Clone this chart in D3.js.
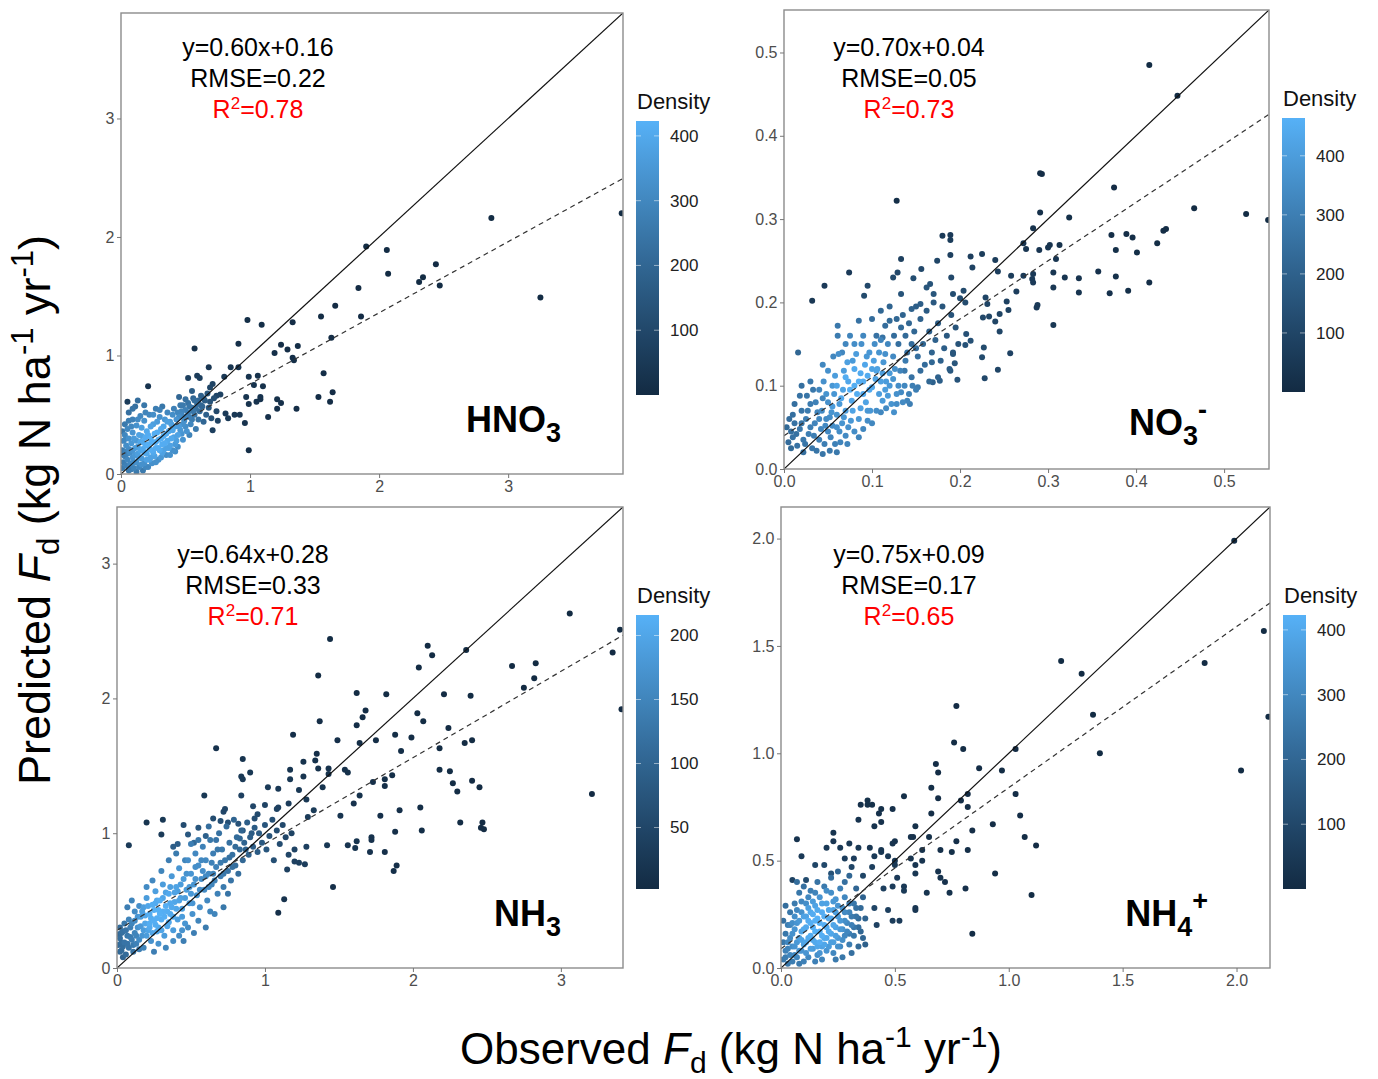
<!DOCTYPE html>
<html><head><meta charset="utf-8">
<script src="https://cdn.jsdelivr.net/npm/d3@7"></script>
<style>
body{margin:0;background:#fff}
text{font-family:Arial,"Liberation Sans",Helvetica,sans-serif}
</style>
</head><body>
<svg id="chart" width="1378" height="1079"></svg>
<script>
// ---------- data ----------
const panelBase = ["HNO", "NO", "NH", "NH"];
const panelSub = ["3", "3", "3", "4"];
const panelSup = ["", "-", "", "+"];
const fitSlopes = [0.60, 0.70, 0.64, 0.75];
const fitIntercepts = [0.16, 0.04, 0.28, 0.09];
const fitLabels = ["y=0.60x+0.16", "y=0.70x+0.04", "y=0.64x+0.28", "y=0.75x+0.09"];
const rmseLabels = ["RMSE=0.22", "RMSE=0.05", "RMSE=0.33", "RMSE=0.17"];
const r2Labels = ["=0.78", "=0.73", "=0.71", "=0.65"];
const axisMax = [3.89, 0.551, 3.42, 2.147];
const axisTicks = [[0, 1, 2, 3], [0, 0.1, 0.2, 0.3, 0.4, 0.5], [0, 1, 2, 3], [0, 0.5, 1, 1.5, 2]];
const axisFormats = ["d", ".1f", "d", ".1f"];
const densityRange = [[0, 423], [0, 464], [2, 216], [0, 423]];
const densityTicks = [[100, 200, 300, 400], [100, 200, 300, 400], [50, 100, 150, 200], [100, 200, 300, 400]];

// [observed, predicted, density]
const hno3Points = [
[3.88,2.20,2],[2.87,2.16,2],[1.90,1.92,3],[2.06,1.89,3],[2.44,1.77,3],[2.07,1.69,3],[2.34,1.66,3],[2.31,1.62,3],[2.47,1.59,3],[1.84,1.57,4],[3.25,1.49,2],[1.66,1.42,5],[1.55,1.33,6],[1.86,1.33,5],[0.98,1.30,10],[1.09,1.26,10],[1.33,1.28,8],[1.63,1.15,8],[0.91,1.10,15],[1.24,1.09,12],[1.37,1.08,10],[1.29,1.05,12],[0.57,1.06,20],[1.19,1.02,15],[1.33,0.98,14],[1.34,0.96,14],[1.57,0.85,10],[0.68,0.90,40],[0.85,0.90,35],[0.91,0.90,30],[0.59,0.83,60],[0.52,0.81,70],[0.61,0.81,65],[0.80,0.82,50],[1.06,0.83,25],[0.99,0.82,28],[1.03,0.75,30],[1.10,0.74,25],[0.21,0.74,30],[1.64,0.69,8],[1.53,0.65,8],[1.62,0.61,8],[0.97,0.65,35],[1.08,0.65,28],[1.08,0.63,28],[0.99,0.59,32],[1.05,0.61,30],[1.21,0.63,20],[1.24,0.60,18],[1.21,0.55,18],[1.36,0.55,12],[1.14,0.48,18],[0.88,0.50,45],[0.92,0.50,42],[0.81,0.51,55],[0.83,0.47,50],[0.96,0.43,30],[0.99,0.20,10],[0.05,0.61,60],[0.69,0.73,90],[0.71,0.76,80],[0.74,0.66,90],[0.77,0.67,80],[0.75,0.45,80],[0.71,0.37,70],
[0.01,0.05,260],[0.02,0.10,270],[0.03,0.15,280],[0.01,0.20,270],[0.04,0.07,280],[0.05,0.12,300],[0.06,0.03,260],[0.07,0.18,320],[0.08,0.09,310],[0.02,0.28,300],[0.04,0.24,320],[0.09,0.14,340],[0.10,0.05,290],[0.11,0.22,360],[0.12,0.10,330],[0.03,0.33,300],[0.06,0.30,330],[0.08,0.26,350],[0.13,0.17,370],[0.14,0.06,300],[0.15,0.27,390],[0.16,0.13,360],[0.17,0.21,400],[0.18,0.09,330],[0.19,0.31,410],[0.20,0.17,400],[0.21,0.25,420],[0.22,0.12,370],[0.05,0.38,300],[0.09,0.35,340],[0.12,0.41,330],[0.14,0.33,380],[0.16,0.39,370],[0.18,0.45,330],[0.20,0.36,400],[0.23,0.30,420],[0.24,0.20,410],[0.25,0.42,370],[0.26,0.15,380],[0.27,0.27,420],[0.28,0.35,410],[0.29,0.22,410],[0.30,0.48,330],[0.31,0.30,415],[0.32,0.18,380],[0.33,0.40,390],[0.34,0.26,410],[0.35,0.34,405],[0.36,0.52,300],[0.37,0.22,380],[0.38,0.44,360],[0.39,0.30,400],[0.40,0.37,390],[0.41,0.55,280],[0.42,0.25,360],[0.43,0.46,340],[0.44,0.33,380],[0.45,0.40,360],[0.46,0.58,260],[0.47,0.50,300],[0.48,0.29,340],[0.49,0.45,320],[0.50,0.54,280],[0.51,0.36,340],[0.52,0.60,240],[0.53,0.48,280],[0.54,0.42,300],[0.55,0.56,250],[0.56,0.64,200],[0.57,0.50,250],[0.58,0.38,260],[0.59,0.59,220],[0.60,0.46,240],[0.61,0.53,220],[0.62,0.66,180],[0.63,0.57,200],[0.64,0.44,200],[0.65,0.62,170],[0.66,0.50,180],[0.67,0.68,150],[0.68,0.56,150],[0.69,0.61,140],[0.70,0.47,130],[0.72,0.64,120],[0.74,0.53,100],[0.09,0.46,280],[0.06,0.52,230],[0.22,0.50,300],[0.27,0.55,270],[0.32,0.57,250],[0.15,0.49,300],[0.11,0.57,230],[0.24,0.09,330],[0.29,0.12,330],[0.35,0.16,320],[0.40,0.20,330],[0.44,0.23,320],[0.17,0.03,260],[0.21,0.06,300],[0.10,0.30,360],[0.03,0.42,260],[0.47,0.34,340],[0.53,0.33,290],[0.57,0.62,220],[0.50,0.63,230],[0.45,0.65,200],[0.55,0.70,170],[0.48,0.58,260],[0.35,0.22,380],
[0.02,0.16,270],[0.04,0.19,290],[0.06,0.21,310],[0.07,0.08,300],[0.09,0.20,340],[0.10,0.10,320],[0.11,0.16,350],[0.12,0.28,350],[0.13,0.23,370],[0.14,0.14,360],[0.15,0.20,385],[0.16,0.32,380],[0.17,0.27,400],[0.18,0.18,395],[0.19,0.24,410],[0.20,0.12,380],[0.21,0.33,410],[0.22,0.21,415],[0.23,0.40,380],[0.24,0.27,420],[0.25,0.18,400],[0.26,0.34,415],[0.27,0.22,410],[0.28,0.44,360],[0.29,0.29,418],[0.30,0.20,400],[0.31,0.38,400],[0.32,0.25,410],[0.33,0.32,410],[0.34,0.46,350],[0.36,0.28,400],[0.37,0.36,395],[0.38,0.24,380],[0.39,0.42,370],[0.41,0.31,380],[0.42,0.40,365],[0.43,0.28,370],[0.45,0.48,320],[0.46,0.37,350],[0.48,0.42,330],[0.50,0.48,300],[0.52,0.52,270],[0.53,0.57,250],[0.55,0.46,270],[0.56,0.53,250],[0.58,0.55,230],[0.60,0.62,200],[0.62,0.58,200],[0.64,0.64,170],[0.50,0.40,320],[0.47,0.53,290],[0.44,0.52,300],[0.40,0.50,320],[0.36,0.44,370],[0.08,0.40,300],[0.13,0.46,310],[0.19,0.52,290],[0.25,0.50,320],[0.30,0.54,280],[0.06,0.45,270],[0.04,0.30,300],[0.01,0.36,250],[0.05,0.17,290],[0.08,0.04,270],[0.12,0.02,260],[0.16,0.08,330],[0.19,0.06,300],[0.23,0.14,380],[0.27,0.10,330],[0.31,0.14,350],[0.33,0.20,380],[0.38,0.16,330],[0.42,0.19,320],[0.13,0.62,220],[0.18,0.58,250],[0.09,0.55,240]
];

const no3Points = [
[0.415,0.485,2],[0.447,0.448,3],[0.291,0.355,8],[0.293,0.354,8],[0.128,0.322,15],[0.375,0.338,5],[0.291,0.308,20],[0.466,0.313,4],[0.525,0.306,3],[0.550,0.299,2],[0.324,0.302,18],[0.434,0.288,8],[0.431,0.286,8],[0.283,0.289,30],[0.372,0.281,15],[0.389,0.282,12],[0.396,0.278,12],[0.424,0.271,10],[0.180,0.280,60],[0.189,0.281,60],[0.189,0.275,65],[0.272,0.271,40],[0.302,0.269,35],[0.313,0.269,30],[0.275,0.264,45],[0.290,0.263,40],[0.300,0.266,38],[0.377,0.263,18],[0.401,0.260,14],[0.189,0.257,80],[0.212,0.255,75],[0.225,0.258,70],[0.133,0.252,80],[0.174,0.250,100],[0.240,0.251,65],[0.309,0.252,40],[0.214,0.242,90],[0.156,0.240,110],[0.074,0.236,60],[0.357,0.237,25],[0.306,0.236,45],[0.243,0.237,75],[0.377,0.231,22],[0.335,0.229,35],[0.319,0.230,40],[0.272,0.232,60],[0.283,0.234,55],[0.283,0.224,60],[0.282,0.228,58],[0.190,0.230,110],[0.147,0.229,130],[0.124,0.230,120],[0.129,0.236,110],[0.258,0.232,70],[0.046,0.220,60],[0.095,0.220,110],[0.415,0.224,12],[0.306,0.218,50],[0.264,0.213,75],[0.370,0.211,25],[0.335,0.212,38],[0.391,0.214,18],[0.133,0.210,150],[0.192,0.210,130],[0.204,0.214,120],[0.091,0.208,120],[0.032,0.202,50],[0.229,0.206,100],[0.206,0.200,125],[0.253,0.201,85],[0.288,0.197,60],[0.287,0.194,60],[0.231,0.198,100],[0.306,0.173,50],[0.245,0.165,100],[0.207,0.162,140],[0.212,0.154,140],[0.206,0.149,145],[0.192,0.138,160],[0.194,0.127,160],[0.189,0.118,165],[0.197,0.107,150],[0.225,0.134,120],[0.228,0.109,110],[0.243,0.119,100],[0.257,0.139,90],[0.233,0.183,100],[0.245,0.186,95],[0.255,0.191,85],[0.240,0.177,100],[0.226,0.182,110],[0.227,0.146,120],[0.177,0.106,190],[0.169,0.104,200],
[0.060,0.100,420],[0.065,0.085,440],[0.070,0.110,450],[0.075,0.095,460],[0.080,0.120,440],[0.085,0.105,455],[0.090,0.090,440],[0.092,0.125,430],[0.095,0.112,445],[0.100,0.098,430],[0.102,0.130,410],[0.105,0.118,420],[0.110,0.105,410],[0.112,0.082,390],[0.115,0.095,400],[0.118,0.088,390],[0.120,0.115,390],[0.122,0.078,370],[0.125,0.068,360],[0.128,0.090,360],[0.130,0.100,350],[0.135,0.080,340],[0.140,0.082,320],[0.143,0.078,300],[0.150,0.095,300],[0.152,0.098,290],[0.055,0.075,400],[0.058,0.112,400],[0.062,0.138,360],[0.068,0.062,380],[0.072,0.128,410],[0.078,0.070,420],[0.082,0.138,400],[0.087,0.073,410],[0.088,0.150,360],[0.097,0.140,380],[0.098,0.070,380],[0.103,0.150,350],[0.108,0.140,370],[0.113,0.128,380],[0.118,0.150,330],[0.124,0.135,340],[0.126,0.120,360],[0.050,0.118,360],[0.045,0.105,360],[0.048,0.090,370],[0.052,0.062,350],[0.061,0.172,280],[0.061,0.160,290],[0.066,0.140,330],[0.075,0.160,320],[0.085,0.178,260],[0.016,0.140,220],[0.090,0.160,330],[0.106,0.120,410],[0.110,0.068,330],[0.116,0.073,340],[0.132,0.118,320],[0.138,0.130,290],
[0.005,0.032,240],[0.008,0.045,250],[0.010,0.038,260],[0.012,0.055,260],[0.015,0.028,260],[0.018,0.048,280],[0.020,0.070,270],[0.022,0.035,280],[0.025,0.060,300],[0.028,0.042,300],[0.030,0.078,290],[0.032,0.025,280],[0.035,0.055,320],[0.038,0.068,320],[0.040,0.035,310],[0.042,0.048,330],[0.044,0.085,320],[0.046,0.030,300],[0.048,0.060,340],[0.050,0.045,340],[0.053,0.038,320],[0.055,0.052,350],[0.058,0.030,310],[0.060,0.065,370],[0.063,0.045,350],[0.066,0.055,370],[0.070,0.040,340],[0.073,0.050,360],[0.076,0.058,380],[0.080,0.045,350],[0.052,0.022,280],[0.003,0.050,230],[0.018,0.088,260],[0.026,0.088,270],[0.010,0.065,250],[0.037,0.022,270],[0.064,0.032,320],[0.085,0.060,380],[0.090,0.048,330],[0.095,0.058,350],[0.012,0.078,250],[0.033,0.095,280],
[0.100,0.180,240],[0.105,0.160,260],[0.110,0.190,220],[0.115,0.172,240],[0.120,0.178,230],[0.125,0.160,240],[0.128,0.180,220],[0.130,0.150,250],[0.133,0.170,230],[0.135,0.185,210],[0.138,0.160,230],[0.140,0.140,260],[0.142,0.175,220],[0.145,0.150,240],[0.148,0.165,220],[0.150,0.195,190],[0.152,0.135,250],[0.155,0.180,200],[0.158,0.150,220],[0.160,0.125,240],[0.162,0.190,180],[0.165,0.165,200],[0.168,0.140,210],[0.170,0.210,160],[0.172,0.155,200],[0.175,0.175,180],[0.178,0.130,200],[0.180,0.195,160],[0.182,0.145,190],[0.185,0.160,170],[0.188,0.120,180],[0.190,0.185,150],[0.192,0.140,160],[0.195,0.170,150],[0.198,0.150,150],[0.200,0.205,130],[0.162,0.218,160],[0.166,0.222,150],[0.170,0.200,170],[0.155,0.198,190],[0.145,0.192,200],[0.120,0.195,210],[0.112,0.158,260],[0.137,0.118,280],[0.145,0.110,260],[0.155,0.118,240],[0.165,0.105,220],[0.175,0.110,200],[0.168,0.128,220],[0.150,0.145,240],
[0.006,0.060,240],[0.014,0.042,255],[0.020,0.055,270],[0.024,0.030,270],[0.027,0.070,290],[0.030,0.050,300],[0.034,0.040,300],[0.036,0.080,310],[0.040,0.060,330],[0.043,0.070,340],[0.047,0.052,340],[0.050,0.080,360],[0.054,0.068,370],[0.057,0.090,380],[0.060,0.050,360],[0.063,0.078,390],[0.067,0.095,420],[0.070,0.070,400],[0.073,0.105,430],[0.077,0.082,430],[0.080,0.100,450],[0.083,0.090,450],[0.087,0.115,445],[0.090,0.105,450],[0.093,0.080,420],[0.097,0.095,440],[0.100,0.120,420],[0.104,0.108,420],[0.108,0.090,400],[0.112,0.115,400],[0.116,0.105,395],[0.120,0.100,380],[0.124,0.108,370],[0.128,0.078,350],[0.133,0.092,340],[0.137,0.100,330],[0.142,0.090,310],[0.146,0.100,300],[0.030,0.105,280],[0.040,0.095,320],[0.055,0.100,380],[0.068,0.118,400],[0.078,0.130,390],[0.094,0.135,380],[0.110,0.155,320],[0.070,0.150,330],[0.080,0.150,350],[0.115,0.138,360],[0.044,0.125,330],[0.056,0.135,330],[0.020,0.100,250],[0.008,0.025,230],[0.022,0.020,250],[0.044,0.018,270],[0.060,0.020,280],[0.072,0.030,320],[0.085,0.038,320],[0.100,0.055,330],[0.105,0.070,350],[0.095,0.070,380]
];

const nh3Points = [
[3.06,2.63,2],[3.40,2.51,2],[3.35,2.34,2],[3.41,1.92,2],[3.21,1.29,2],[1.44,2.44,3],[2.10,2.39,3],[2.13,2.32,3],[2.36,2.36,3],[2.04,2.23,3],[2.67,2.24,2],[2.83,2.26,2],[2.75,2.08,2],[2.82,2.15,2],[1.36,2.17,4],[1.62,2.04,5],[1.82,2.03,5],[2.21,2.03,4],[2.39,2.02,3],[2.03,1.89,5],[2.07,1.83,5],[1.37,1.83,8],[1.68,1.91,6],[1.66,1.86,6],[1.62,1.80,7],[2.24,1.78,4],[1.88,1.73,7],[1.99,1.71,6],[1.19,1.73,10],[1.49,1.69,10],[1.64,1.67,9],[1.75,1.69,8],[2.35,1.67,4],[2.40,1.69,4],[1.92,1.61,7],[2.18,1.63,5],[0.67,1.63,15],[1.35,1.59,12],[0.85,1.55,18],[1.34,1.54,14],[1.26,1.53,16],[1.17,1.47,20],[1.36,1.48,16],[1.43,1.48,15],[1.54,1.47,13],[1.56,1.45,13],[2.18,1.47,5],[2.25,1.46,5],[0.90,1.45,25],[1.43,1.44,16],[1.86,1.43,9],[0.84,1.42,28],[0.85,1.40,28],[1.26,1.42,20],[1.17,1.40,25],[1.81,1.40,10],[2.40,1.39,4],[1.73,1.38,11],[1.81,1.35,10],[2.27,1.37,5],[2.45,1.34,4],[2.30,1.31,5],[1.02,1.34,30],[1.09,1.33,28],[1.39,1.34,18],[1.23,1.32,25],[0.84,1.28,40],[0.59,1.28,25],[1.64,1.28,14],[1.60,1.22,15],[1.28,1.25,25],[1.00,1.21,45],[1.16,1.22,35],[0.92,1.20,50],[1.09,1.19,40],[1.08,1.18,42],[1.51,1.13,20],[1.78,1.13,12],[1.91,1.17,10],[2.05,1.19,7],[1.33,1.17,30],[1.29,1.12,32],[2.32,1.08,5],[2.47,1.08,4],[2.46,1.04,4],[2.48,1.03,4],[2.06,1.02,7],[1.88,1.01,10],[0.20,1.08,20],[0.31,1.10,25],[0.30,0.99,30],[1.42,0.91,25],[1.56,0.91,20],[1.62,0.94,18],[1.61,0.89,18],[1.72,0.97,15],[1.72,0.95,15],[1.71,0.86,15],[1.81,0.86,12],[1.87,0.72,10],[1.89,0.76,10],[1.46,0.60,12],[1.13,0.51,15],[1.09,0.41,12],[1.20,0.79,40],[1.23,0.78,38],[1.27,0.77,35],[1.15,0.73,40],[1.28,0.90,40],[0.08,0.91,30],
[0.65,1.11,60],[0.72,1.16,50],[0.73,1.18,50],[0.70,1.09,65],[0.75,1.08,65],[0.82,1.07,70],[0.85,1.02,80],[0.93,1.11,60],[0.95,1.14,55],[0.48,0.99,80],[0.41,0.92,90],[0.38,0.90,90],[0.55,1.04,75],[0.60,0.98,95],[0.45,1.06,60],[0.52,0.93,110],
[0.01,0.17,110],[0.02,0.22,115],[0.03,0.13,110],[0.04,0.27,120],[0.05,0.19,125],[0.06,0.10,110],[0.07,0.24,130],[0.08,0.15,125],[0.09,0.30,140],[0.10,0.21,140],[0.11,0.12,120],[0.12,0.26,150],[0.02,0.30,110],[0.05,0.33,130],[0.13,0.18,145],[0.04,0.08,100],[0.08,0.36,150],[0.15,0.14,140],[0.01,0.25,105],[0.03,0.19,115],
[0.14,0.30,170],[0.16,0.38,185],[0.17,0.24,175],[0.18,0.45,190],[0.19,0.33,200],[0.20,0.52,185],[0.21,0.28,195],[0.22,0.40,210],[0.23,0.20,170],[0.24,0.47,210],[0.25,0.35,212],[0.26,0.57,190],[0.27,0.27,200],[0.28,0.43,214],[0.29,0.50,210],[0.30,0.36,210],[0.31,0.62,185],[0.32,0.24,185],[0.33,0.46,212],[0.34,0.31,200],[0.35,0.55,205],[0.36,0.40,205],[0.37,0.68,180],[0.38,0.28,185],[0.39,0.49,200],[0.40,0.60,195],[0.41,0.36,190],[0.42,0.74,175],[0.43,0.52,190],[0.44,0.44,190],[0.45,0.66,185],[0.46,0.33,175],[0.47,0.58,185],[0.48,0.80,165],[0.49,0.48,180],[0.50,0.70,175],[0.51,0.40,170],[0.52,0.62,175],[0.53,0.85,155],[0.54,0.54,170],[0.55,0.76,165],[0.56,0.45,165],[0.57,0.66,165],[0.58,0.90,145],[0.59,0.58,160],[0.60,0.80,155],[0.61,0.50,155],[0.62,0.70,155],[0.63,0.95,130],[0.64,0.62,150],[0.65,0.85,140],[0.66,0.40,150],[0.67,0.75,145],[0.68,0.55,145],[0.69,1.00,120],[0.70,0.68,140],[0.71,0.88,130],[0.72,0.60,135],[0.73,0.80,130],[0.74,1.05,110],[0.75,0.72,125],[0.76,0.93,120],[0.77,0.65,125],[0.78,0.84,120],[0.79,1.10,100],[0.80,0.76,115],[0.81,0.97,110],[0.82,0.70,115],[0.83,0.88,110],[0.84,1.02,100],[0.85,0.80,105],[0.86,0.93,100],[0.88,1.08,90],[0.89,0.84,95],[0.90,0.97,90],[0.92,0.90,90],[0.93,1.04,85],[0.95,0.86,85],[0.96,1.00,85],[0.98,0.93,80],[1.00,1.06,75],[1.01,0.88,75],[1.03,0.98,70],[1.05,1.10,65],[1.06,0.80,65],[1.08,1.02,60],[1.10,0.92,60],[1.12,1.06,55],[1.14,0.97,50],[1.16,0.84,50],[1.18,1.00,45],[1.20,0.88,45],
[0.15,0.46,165],[0.12,0.42,160],[0.10,0.50,150],[0.07,0.45,140],[0.20,0.60,160],[0.24,0.65,155],[0.30,0.72,150],[0.35,0.80,140],[0.18,0.15,150],[0.25,0.12,140],[0.28,0.18,170],[0.33,0.15,150],[0.38,0.20,160],[0.42,0.24,160],[0.48,0.30,160],[0.52,0.26,140],[0.55,0.35,150],[0.60,0.30,135],[0.45,0.20,140],[0.22,0.33,210],[0.27,0.37,212],[0.31,0.42,212],[0.36,0.48,205],[0.26,0.48,208],[0.41,0.57,190],[0.44,0.28,170],[0.50,0.55,180],[0.58,0.72,165],[0.63,0.42,150],[0.68,0.88,130],[0.72,0.45,130],[0.75,0.55,125],[0.65,0.70,150],[0.53,0.75,165],[0.46,0.80,150],[0.40,0.85,135],[0.55,0.95,130],[0.62,1.05,115],[0.50,0.92,140],
[0.02,0.12,105],[0.03,0.26,115],[0.04,0.16,115],[0.06,0.28,125],[0.07,0.18,125],[0.09,0.23,135],[0.10,0.33,150],[0.11,0.17,135],[0.12,0.35,160],[0.13,0.24,150],[0.14,0.38,175],[0.15,0.21,160],[0.16,0.31,180],[0.17,0.42,190],[0.18,0.28,185],[0.19,0.39,200],[0.20,0.24,185],[0.21,0.46,200],[0.22,0.30,205],[0.23,0.37,210],[0.24,0.26,200],[0.25,0.43,214],[0.26,0.32,210],[0.27,0.50,205],[0.28,0.30,205],[0.29,0.40,214],[0.30,0.28,200],[0.31,0.52,200],[0.32,0.38,212],[0.33,0.56,195],[0.34,0.42,210],[0.35,0.34,205],[0.36,0.60,190],[0.37,0.45,205],[0.38,0.38,200],[0.39,0.56,195],[0.40,0.44,200],[0.42,0.50,195],[0.43,0.62,185],[0.44,0.38,185],[0.46,0.52,185],[0.47,0.70,170],[0.49,0.60,180],[0.51,0.48,175],[0.53,0.66,170],[0.56,0.58,165],[0.57,0.80,155],[0.60,0.68,160],[0.62,0.60,155],[0.64,0.78,145],[0.66,0.65,145],[0.67,0.95,125],[0.70,0.78,135],[0.72,0.70,130],[0.76,0.82,120],[0.78,0.75,118],[0.80,0.90,110],[0.83,0.96,105],[0.87,0.88,95],[0.91,1.00,85]
];

const nh4Points = [
[1.99,1.99,2],[2.12,1.57,2],[1.86,1.42,2],[1.23,1.43,3],[1.32,1.37,3],[2.14,1.17,2],[1.37,1.18,3],[1.40,1.00,3],[2.02,0.92,2],[0.77,1.22,5],[0.76,1.05,6],[0.80,1.02,6],[1.03,1.02,5],[0.68,0.95,8],[0.69,0.91,8],[0.87,0.93,7],[0.97,0.92,6],[0.66,0.84,10],[0.54,0.80,14],[0.69,0.79,12],[1.03,0.81,7],[0.82,0.81,9],[0.79,0.78,10],[0.82,0.75,10],[0.38,0.78,20],[0.38,0.76,20],[0.40,0.76,20],[0.35,0.76,22],[0.44,0.74,20],[0.43,0.72,22],[0.49,0.74,18],[0.66,0.72,14],[1.05,0.71,7],[0.44,0.68,25],[0.34,0.69,28],[0.41,0.66,28],[0.93,0.67,9],[0.23,0.63,35],[0.84,0.64,12],[0.59,0.66,20],[1.07,0.61,7],[1.12,0.57,6],[0.07,0.60,30],[0.23,0.59,40],[0.58,0.61,25],[0.57,0.61,25],[0.65,0.61,20],[0.77,0.59,15],[0.82,0.55,14],[0.75,0.54,17],[0.70,0.55,18],[0.62,0.55,25],[0.50,0.59,30],[0.49,0.58,32],[0.44,0.55,38],[0.44,0.54,38],[0.39,0.56,40],[0.30,0.58,45],[0.20,0.56,50],[0.26,0.56,50],[0.34,0.56,45],[0.09,0.52,50],[0.28,0.51,65],[0.32,0.51,65],[0.41,0.52,50],[0.47,0.52,45],[0.50,0.50,42],[0.50,0.48,45],[0.57,0.51,35],[0.62,0.50,32],[0.59,0.48,35],[0.69,0.45,28],[0.70,0.42,28],[0.72,0.40,26],[0.74,0.35,24],[0.81,0.37,18],[0.94,0.44,10],[1.10,0.34,6],[0.84,0.16,8],[0.64,0.35,35],[0.54,0.38,50],[0.54,0.36,52],[0.49,0.38,60],[0.45,0.37,70],[0.40,0.47,70],[0.31,0.47,90],[0.36,0.43,90],[0.51,0.42,55],[0.59,0.44,40],[0.41,0.28,90],[0.47,0.27,70],[0.49,0.22,60],[0.52,0.22,55],[0.59,0.28,40],[0.59,0.27,40],[0.42,0.20,80],[0.05,0.41,80],[0.11,0.41,110],[0.15,0.48,90],[0.19,0.48,100],[0.22,0.44,130],
[0.01,0.04,260],[0.02,0.08,280],[0.03,0.02,250],[0.03,0.12,300],[0.04,0.06,300],[0.05,0.16,330],[0.05,0.03,270],[0.06,0.10,340],[0.07,0.21,340],[0.07,0.05,300],[0.08,0.14,370],[0.09,0.26,330],[0.09,0.08,340],[0.10,0.18,400],[0.11,0.12,390],[0.11,0.30,320],[0.12,0.22,410],[0.12,0.05,300],[0.13,0.15,410],[0.13,0.26,400],[0.14,0.09,360],[0.14,0.19,420],[0.15,0.12,400],[0.15,0.29,380],[0.16,0.23,420],[0.16,0.06,320],[0.17,0.17,420],[0.17,0.33,340],[0.18,0.10,380],[0.18,0.26,410],[0.19,0.20,415],[0.19,0.14,400],[0.20,0.30,380],[0.20,0.08,340],[0.21,0.23,400],[0.21,0.17,400],[0.22,0.35,320],[0.22,0.12,370],[0.23,0.27,380],[0.23,0.20,390],[0.24,0.15,370],[0.24,0.32,340],[0.25,0.24,360],[0.25,0.10,330],[0.26,0.18,350],[0.26,0.37,280],[0.27,0.28,330],[0.27,0.13,320],[0.28,0.22,320],[0.28,0.33,300],[0.29,0.17,300],[0.30,0.26,290],[0.30,0.11,270],[0.31,0.20,280],[0.32,0.30,250],[0.32,0.15,250],[0.33,0.24,240],[0.34,0.19,220],[0.35,0.28,210],[0.36,0.14,200],[0.37,0.23,190],[0.36,0.33,190],[0.02,0.16,250],[0.01,0.22,230],[0.04,0.26,250],[0.06,0.30,260],[0.08,0.35,250],[0.10,0.38,230],[0.13,0.36,270],[0.16,0.40,240],[0.19,0.38,260],[0.02,0.29,220],[0.06,0.24,320],[0.10,0.03,280],[0.23,0.07,300],[0.27,0.05,250],[0.31,0.07,230],[0.34,0.10,210],[0.08,0.02,260],[0.15,0.03,280],[0.18,0.04,290],[0.22,0.42,220],[0.25,0.45,200],[0.28,0.40,230],[0.24,0.04,260],[0.05,0.21,320],[0.11,0.24,380],[0.14,0.31,360],[0.17,0.12,410],[0.20,0.36,320],[0.09,0.13,380],[0.03,0.20,270],[0.37,0.11,180],[0.33,0.37,200],[0.30,0.43,200],[0.07,0.40,220],[0.01,0.12,250],
[0.02,0.05,270],[0.03,0.09,290],[0.04,0.14,310],[0.05,0.10,320],[0.06,0.06,310],[0.06,0.18,340],[0.07,0.12,350],[0.08,0.08,340],[0.08,0.22,350],[0.09,0.17,380],[0.10,0.11,380],[0.10,0.24,380],[0.11,0.07,340],[0.11,0.19,400],[0.12,0.14,400],[0.12,0.28,370],[0.13,0.09,370],[0.13,0.21,415],[0.14,0.25,410],[0.14,0.13,400],[0.15,0.17,420],[0.15,0.22,420],[0.16,0.10,390],[0.16,0.27,400],[0.17,0.21,420],[0.17,0.07,340],[0.18,0.15,415],[0.18,0.30,380],[0.19,0.24,415],[0.19,0.11,390],[0.20,0.19,410],[0.20,0.14,400],[0.21,0.27,390],[0.21,0.10,360],[0.22,0.16,390],[0.22,0.23,395],[0.23,0.31,350],[0.23,0.12,370],[0.24,0.19,380],[0.24,0.26,370],[0.25,0.14,350],[0.25,0.29,340],[0.26,0.22,350],[0.26,0.10,310],[0.27,0.18,330],[0.28,0.26,310],[0.28,0.15,300],[0.29,0.21,300],[0.30,0.30,270],[0.30,0.16,270],[0.31,0.24,260],[0.32,0.19,250],[0.33,0.28,230],[0.34,0.23,215],[0.35,0.17,200],[0.04,0.20,290],[0.07,0.27,300],[0.09,0.31,300],[0.12,0.33,300],[0.15,0.35,290]
];

const panelPoints = [hno3Points, no3Points, nh3Points, nh4Points];

// ---------- layout ----------
const boxes = [
  {left: 121, top: 13, w: 502, h: 461, statX: 137, statY: 34, labelDy: 42},
  {left: 784, top: 10, w: 485, h: 459, statX: 125, statY: 37, labelDy: 34},
  {left: 117, top: 507, w: 506, h: 461, statX: 136, statY: 47, labelDy: 42},
  {left: 781, top: 507, w: 489, h: 461, statX: 128, statY: 47, labelDy: 42}
];

const svg = d3.select("#chart");
svg.append("rect").attr("width", 1378).attr("height", 1079).attr("fill", "#fff");

const lowCol = "#132B43", highCol = "#56B1F7";
const grey = "#4d4d4d";

boxes.forEach((b, i) => {
  const g = svg.append("g").attr("transform", `translate(${b.left},${b.top})`);
  const x = d3.scaleLinear().domain([0, axisMax[i]]).range([0, b.w]);
  const y = d3.scaleLinear().domain([0, axisMax[i]]).range([b.h, 0]);
  const col = d3.scaleLinear().domain(densityRange[i]).range([lowCol, highCol]).interpolate(d3.interpolateLab).clamp(true);

  const clipId = "clip" + i;
  g.append("clipPath").attr("id", clipId).append("rect").attr("width", b.w).attr("height", b.h);

  const plot = g.append("g").attr("clip-path", `url(#${clipId})`);
  const pts = panelPoints[i].slice().sort((a, c) => a[2] - c[2]);
  plot.selectAll("circle").data(pts).join("circle")
    .attr("cx", d => x(d[0])).attr("cy", d => y(d[1])).attr("r", 3)
    .attr("fill", d => col(d[2]));

  // 1:1 line
  plot.append("line").attr("x1", x(0)).attr("y1", y(0)).attr("x2", x(axisMax[i])).attr("y2", y(axisMax[i]))
    .attr("stroke", "#111").attr("stroke-width", 1.2);
  // fit line
  const xs = [0, axisMax[i]];
  plot.append("line").attr("x1", x(xs[0])).attr("y1", y(fitSlopes[i] * xs[0] + fitIntercepts[i]))
    .attr("x2", x(xs[1])).attr("y2", y(fitSlopes[i] * xs[1] + fitIntercepts[i]))
    .attr("stroke", "#333").attr("stroke-width", 1.2).attr("stroke-dasharray", "5,4");

  // border
  g.append("rect").attr("width", b.w).attr("height", b.h).attr("fill", "none")
    .attr("stroke", "#8c8c8c").attr("stroke-width", 1.4);

  // axes
  const fmt = d3.format(axisFormats[i]);
  const xa = g.append("g").attr("transform", `translate(0,${b.h})`)
    .call(d3.axisBottom(x).tickValues(axisTicks[i]).tickFormat(fmt).tickSize(4).tickPadding(2.5));
  const ya = g.append("g")
    .call(d3.axisLeft(y).tickValues(axisTicks[i]).tickFormat(fmt).tickSize(4).tickPadding(2.5));
  [xa, ya].forEach(a => {
    a.attr("font-size", 16).attr("font-family", 'Arial,"Liberation Sans",sans-serif');
    a.select(".domain").remove();
    a.selectAll(".tick line").attr("stroke", "#777");
    a.selectAll(".tick text").attr("fill", grey).style("font-size", "16px");
  });

  // stats text
  const st = g.append("g").attr("transform", `translate(${b.statX},${b.statY})`)
    .attr("text-anchor", "middle").style("font-size", "25px");
  st.append("text").attr("y", 9).attr("fill", "#000").text(fitLabels[i]);
  st.append("text").attr("y", 40).attr("fill", "#000").text(rmseLabels[i]);
  const r2 = st.append("text").attr("y", 71).attr("fill", "#ff0000");
  r2.append("tspan").text("R");
  r2.append("tspan").attr("dy", -9).style("font-size", "17px").text("2");
  r2.append("tspan").attr("dy", 9).text(r2Labels[i]);

  // species label
  const lab = g.append("text").attr("x", b.w - 62).attr("y", b.h - b.labelDy)
    .attr("text-anchor", "end").style("font-size", "36px").style("font-weight", "bold").attr("fill", "#000");
  lab.append("tspan").text(panelBase[i]);
  lab.append("tspan").attr("dy", 10).style("font-size", "27px").text(panelSub[i]);
  if (panelSup[i]) lab.append("tspan").attr("dy", -26).style("font-size", "27px").text(panelSup[i]);

  // colorbar legend
  const barX = b.w + 13, barTop = 108, barH = 274, barW = 23;
  const lg = g.append("g").attr("transform", `translate(${barX},${barTop})`);
  const gradId = "grad" + i;
  const grad = svg.append("defs").append("linearGradient").attr("id", gradId)
    .attr("x1", 0).attr("y1", 1).attr("x2", 0).attr("y2", 0);
  d3.range(0, 1.0001, 0.1).forEach(t => {
    grad.append("stop").attr("offset", t).attr("stop-color", d3.interpolateLab(lowCol, highCol)(t));
  });
  lg.append("rect").attr("width", barW).attr("height", barH).attr("fill", `url(#${gradId})`);
  const ly = d3.scaleLinear().domain(densityRange[i]).range([barH, 0]);
  densityTicks[i].forEach(t => {
    lg.append("line").attr("x1", 0).attr("x2", 5).attr("y1", ly(t)).attr("y2", ly(t)).attr("stroke", "#fff").attr("stroke-opacity", 0.5);
    lg.append("line").attr("x1", barW - 5).attr("x2", barW).attr("y1", ly(t)).attr("y2", ly(t)).attr("stroke", "#fff").attr("stroke-opacity", 0.5);
    lg.append("text").attr("x", barW + 11).attr("y", ly(t)).attr("dy", "0.35em")
      .style("font-size", "17px").attr("fill", "#222").text(t);
  });
  lg.append("text").attr("x", 1).attr("y", -12).style("font-size", "22px").attr("fill", "#111").text("Density");
});

// axis titles
const xt = svg.append("text").attr("x", 731).attr("y", 1064).attr("text-anchor", "middle")
  .style("font-size", "44px").attr("fill", "#000");
xt.append("tspan").text("Observed ");
xt.append("tspan").style("font-style", "italic").text("F");
xt.append("tspan").attr("dy", 9).style("font-size", "30px").text("d");
xt.append("tspan").attr("dy", -9).text(" (kg N ha");
xt.append("tspan").attr("dy", -17).style("font-size", "30px").text("-1");
xt.append("tspan").attr("dy", 17).text(" yr");
xt.append("tspan").attr("dy", -17).style("font-size", "30px").text("-1");
xt.append("tspan").attr("dy", 17).text(")");

const yt = svg.append("text").attr("transform", "translate(50,510) rotate(-90)").attr("text-anchor", "middle")
  .style("font-size", "45px").attr("fill", "#000");
yt.append("tspan").text("Predicted ");
yt.append("tspan").style("font-style", "italic").text("F");
yt.append("tspan").attr("dy", 9).style("font-size", "31px").text("d");
yt.append("tspan").attr("dy", -9).text(" (kg N ha");
yt.append("tspan").attr("dy", -17).style("font-size", "31px").text("-1");
yt.append("tspan").attr("dy", 17).text(" yr");
yt.append("tspan").attr("dy", -17).style("font-size", "31px").text("-1");
yt.append("tspan").attr("dy", 17).text(")");
</script>
</body></html>
